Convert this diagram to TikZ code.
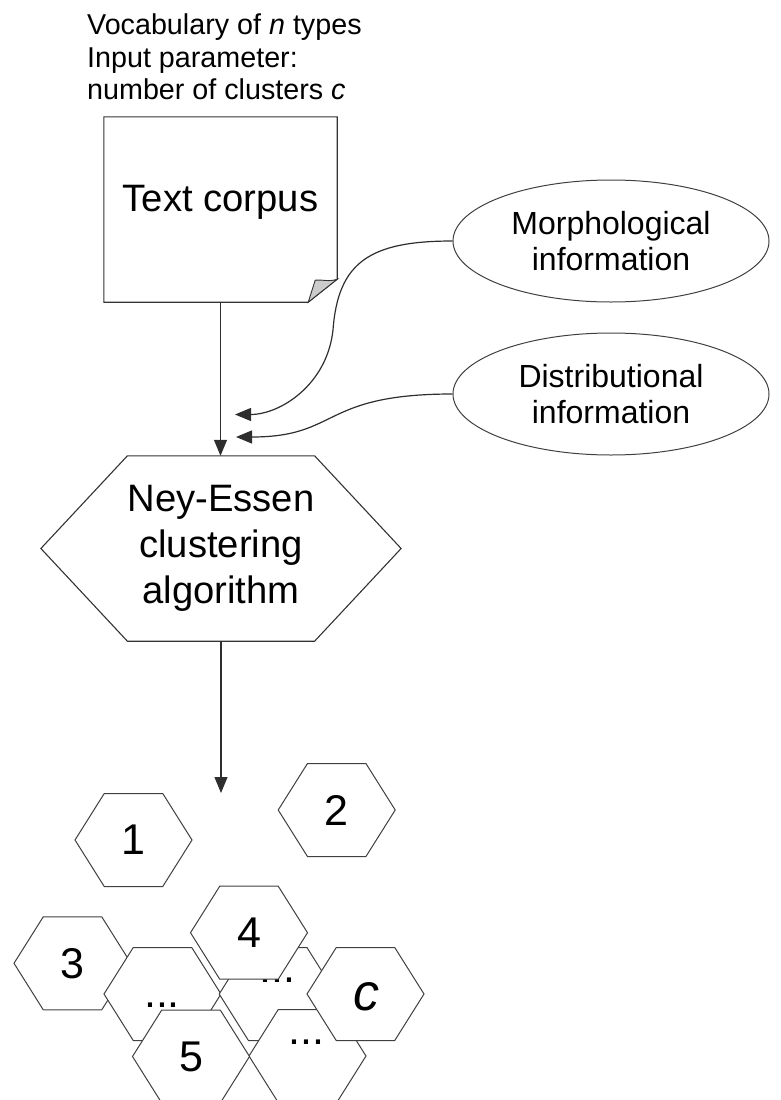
\documentclass[tikz,border=0pt]{standalone}
\usepackage{fontspec}
\setmainfont{Liberation Sans}
\usetikzlibrary{arrows.meta,shapes.geometric,calc}
\tikzset{
  boxline/.style={draw=black!80, line width=1.1pt, line join=miter},
  hexline/.style={draw=black!75, line width=1pt, fill=white, line join=miter},
  arr/.style={draw=black!82, line width=1.2pt, -{Triangle[length=16pt,width=13pt]}},
  bigtext/.style={font=\fontsize{38.2}{45.8}\selectfont, align=center, inner sep=0pt},
  elltext/.style={ellipse, draw=black!75, line width=1pt, minimum width=316pt, minimum height=122pt, inner sep=0pt, align=center, font=\fontsize{32}{36.7}\selectfont},
  numtext/.style={font=\fontsize{43}{50}\selectfont, inner sep=0pt},
}
\newcommand\hexpath[4]{%
  \draw[hexline] (#1,#2) ++(-#3,0) -- ++(#3/2,#4) -- ++(#3,0) -- ++(#3/2,-#4) -- ++(-#3/2,-#4) -- ++(-#3,0) -- cycle;}
\begin{document}
\begin{tikzpicture}[x=1pt,y=1pt]
\useasboundingbox (0,0) rectangle (780,-1100);
% header text
\node[anchor=north west, align=left, inner sep=0pt, font=\fontsize{28.7}{32.5}\selectfont] (vocab) at (87,-14)
  {Vocabulary of \textit{n} types\\Input parameter:\\number of clusters \textit{c}};
% text corpus page
\node[bigtext, minimum width=233pt, minimum height=185pt, text height=27pt, text depth=22.6pt] (tc) at (220.5,-209.5) {Text corpus};
\draw[boxline] (tc.north west) -- (tc.north east) -- ($(tc.south east)+(0,23)$) -- ($(tc.south east)+(-29,0)$) -- (tc.south west) -- cycle;
\draw[boxline, fill=black!20, line width=0.9pt] ($(tc.south east)+(0,23)$) .. controls ($(tc.south east)+(-8,20)$) and ($(tc.south east)+(-16,23)$) .. ($(tc.south east)+(-22,22)$) -- ($(tc.south east)+(-29,0)$) -- cycle;
% ellipses
\node[elltext] (mi) at (611,-241) {Morphological\\information};
\node[elltext] (di) at (611,-394) {Distributional\\information};
% Ney-Essen hexagon
\node[bigtext, minimum width=175pt, minimum height=185pt] (ne) at (221,-548.5) {Ney-Essen\\clustering\\algorithm};
\draw[boxline] (ne.north west) -- (ne.north east) -- ($(ne.east)+(86.5,0)$) -- (ne.south east) -- (ne.south west) -- ($(ne.west)+(-86.5,0)$) -- cycle;
% connectors
\coordinate (mtip) at (235,-414.5);
\coordinate (dtip) at (236,-437);
\coordinate (clust) at (221,-793);
\coordinate (mmid) at (333,-330);
\draw[arr] (tc.south) -- (tc.south |- ne.north);
\draw[arr] (mi.west) .. controls (370,-241) and (338,-262) .. (mmid) .. controls (327,-385) and (280,-414.5) .. (mtip);
\draw[arr] (di.west) .. controls (320,-394) and (340,-437) .. (dtip);
\draw[arr] (ne.south) -- (clust);
% cluster hexagons
\hexpath{133.5}{-840}{58.5}{46.5}
\node[numtext] (h1) at (133.5,-840) {1};
\hexpath{336.7}{-810}{58.5}{46.5}
\node[numtext] (h2) at (336.7,-810) {2};
\hexpath{72.5}{-963.3}{58.5}{46.5}
\node[numtext] (h3) at (72.5,-963.3) {3};
\hexpath{162.5}{-994}{58.5}{46.5}
\node[numtext, anchor=base] (d1) at (162,-1007) {...};
\hexpath{277.7}{-994}{58.5}{46.5}
\node[numtext, anchor=base] (d2) at (277.5,-982) {...};
\hexpath{307.5}{-1056}{58.5}{46.5}
\node[numtext, anchor=base] (d3) at (306.7,-1044) {...};
\hexpath{249}{-932.7}{58.5}{46.5}
\node[numtext] (h4) at (249,-932.7) {4};
\hexpath{365.5}{-994}{58.5}{46.5}
\node[inner sep=0pt, font=\fontsize{52}{60}\selectfont\itshape] (hc) at (366.5,-997) {c};
\hexpath{191}{-1056.5}{58.5}{46.5}
\node[numtext] (h5) at (191,-1056.5) {5};
\end{tikzpicture}
\end{document}
